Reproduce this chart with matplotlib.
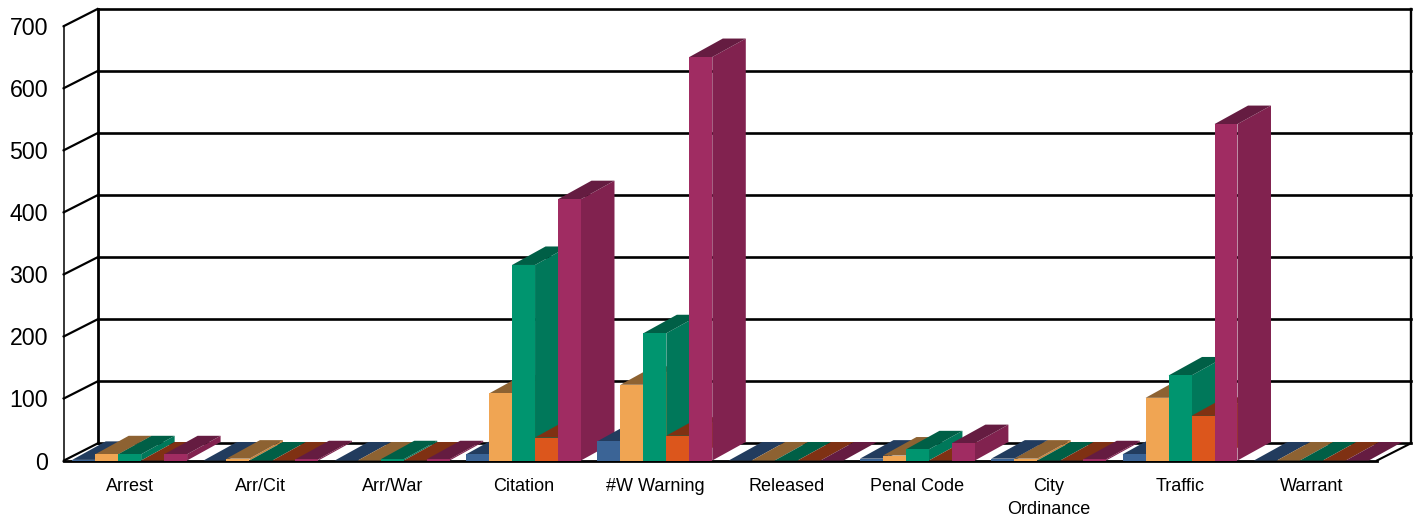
import matplotlib
matplotlib.use("Agg")
import matplotlib.pyplot as plt

plt.rcParams['font.family'] = ['Liberation Sans', 'DejaVu Sans']

categories = ['Arrest', 'Arr/Cit', 'Arr/War', 'Citation', '#W Warning', 'Released',
              'Penal Code', 'City\nOrdinance', 'Traffic', 'Warrant']

blue = [1, 0, 0, 10, 31, 0, 3, 3, 10, 0]
orange = [10, 3, 0, 108, 122, 0, 8, 3, 101, 0]
green = [10, 0, 2, 315, 205, 0, 18, 0, 137, 0]
rust = [0, 0, 0, 37, 40, 0, 0, 0, 72, 0]
magenta = [10, 2, 2, 421, 650, 0, 28, 2, 542, 0]

series = [blue, orange, green, rust, magenta]
front_colors = ['#3B6496', '#F0A553', '#00956F', '#DC561C', '#A02C62']
side_colors = ['#2F5078', '#C8853F', '#00785A', '#B0461A', '#81224F']
top_colors = ['#223C5E', '#8D6232', '#005F46', '#7F3113', '#651C41']

yticks = [0, 100, 200, 300, 400, 500, 600, 700]

W, H = 1419, 518
fig = plt.figure(figsize=(W / 100, H / 100), dpi=100)
# plot box is the front plane of the fake 3d chart
ax = fig.add_axes([64 / W, (H - 460.5) / H, (1377 - 64) / W, (460.5 - 26) / H])
ax.set_xlim(0, 10)
ax.set_ylim(0, 700)

# depth of the fake perspective, in data units
dx = 33.5 / 131.3
dy = 17 / 0.6207
bar_dy = 18.5 / 0.6207
bar_w = 0.175
margin = 0.0625

for s in ['top', 'right', 'bottom']:
    ax.spines[s].set_visible(False)
ax.spines['left'].set_linewidth(1.1)

# back wall and floor
for v in yticks:
    ax.plot([dx, 10 + dx], [v + dy, v + dy], color='black', lw=1.9, clip_on=False, zorder=1)
    ax.plot([0, dx], [v, v + dy], color='black', lw=1.6, clip_on=False, zorder=1)
ax.plot([dx, dx], [dy, 700 + dy], color='black', lw=2, clip_on=False, zorder=1)
ax.plot([10 + dx, 10 + dx], [dy, 700 + dy], color='black', lw=1.7, clip_on=False, zorder=1)
ax.plot([0, 10], [0, 0], color='black', lw=2, clip_on=False, zorder=1)
ax.plot([10, 10 + dx], [0, dy], color='black', lw=1.5, clip_on=False, zorder=1)

# bars go left to right so that later ones cover the earlier side faces
z = 2
for i in range(len(categories)):
    for j in range(len(series)):
        v = series[j][i]
        x0 = i + margin + j * bar_w
        x1 = x0 + bar_w
        ax.fill([x1, x1 + dx, x1 + dx, x1], [0, bar_dy, v + bar_dy, v], color=side_colors[j],
                lw=0, clip_on=False, zorder=z)
        ax.fill([x0, x1, x1 + dx, x0 + dx], [v, v, v + bar_dy, v + bar_dy], color=top_colors[j],
                lw=0, clip_on=False, zorder=z + 1)
        ax.bar(x0, v, bar_w, align='edge', color=front_colors[j], lw=0, clip_on=False, zorder=z + 2)
        z += 3

ax.set_yticks(yticks)
ax.set_yticklabels([str(v) for v in yticks], fontsize=16.7)
ax.tick_params(axis='y', length=1.5, width=1, pad=10, colors='black')

ax.set_xticks([i + 0.5 for i in range(len(categories))])
ax.set_xticklabels(categories, fontsize=13, linespacing=1.5)
ax.tick_params(axis='x', length=0, pad=12.5)

fig.savefig('out.png', dpi=100)
